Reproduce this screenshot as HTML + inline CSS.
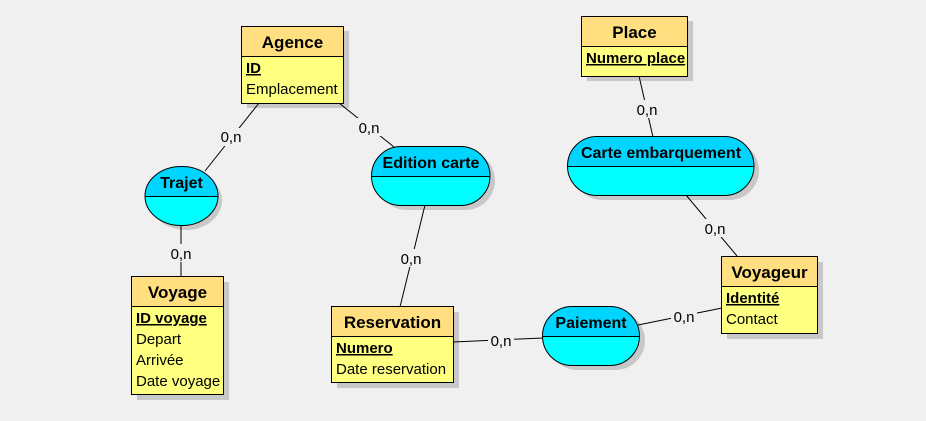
<!DOCTYPE html>
<html><head><meta charset="utf-8"><style>
html,body{margin:0;padding:0;background:#f0f0f0;}
svg{display:block;font-family:"Liberation Sans","DejaVu Sans",sans-serif;}
.t{font-weight:bold;font-size:17px;fill:#000;}
.a{font-size:15px;fill:#000;}
.k{font-size:15px;font-weight:bold;fill:#000;text-decoration:underline;}
.r{font-weight:bold;font-size:16px;fill:#000;}
.c{font-size:15px;fill:#000;}
</style></head><body>
<svg width="926" height="421" viewBox="0 0 926 421" xmlns="http://www.w3.org/2000/svg">
<rect width="926" height="421" fill="#f0f0f0"/>
<g fill="#c8c8c8">
<rect x="247" y="31" width="102" height="77"/>
<rect x="137" y="282" width="92" height="118"/>
<rect x="337" y="312" width="122" height="76"/>
<rect x="587" y="21" width="106" height="60"/>
<rect x="727" y="262" width="96" height="77"/>
<rect x="150" y="171" width="72" height="59" rx="36"/>
<rect x="377" y="151" width="118" height="59" rx="29.5"/>
<rect x="573" y="141" width="186" height="59" rx="29.5"/>
<rect x="548" y="311" width="97" height="59" rx="29.5"/>
</g>
<g stroke="#000" stroke-width="1">
<line x1="259" y1="103" x2="205" y2="171"/>
<line x1="339" y1="103" x2="394" y2="147"/>
<line x1="181" y1="225" x2="181" y2="277"/>
<line x1="425" y1="205" x2="400" y2="307"/>
<line x1="453" y1="342" x2="543" y2="338"/>
<line x1="638" y1="325" x2="722" y2="308"/>
<line x1="639" y1="76" x2="653" y2="137"/>
<line x1="686" y1="195" x2="737" y2="256"/>
</g>
<g fill="#f0f0f0">
<rect x="218" y="128" width="26" height="18"/>
<rect x="356" y="118" width="26" height="18"/>
<rect x="168" y="244" width="26" height="18"/>
<rect x="398" y="249" width="26" height="18"/>
<rect x="488" y="331" width="26" height="18"/>
<rect x="671" y="307" width="26" height="18"/>
<rect x="634" y="100" width="26" height="18"/>
<rect x="702" y="219" width="26" height="18"/>
</g>
<g class="c" text-anchor="middle">
<text x="231" y="142" class="c">0,n</text>
<text x="369" y="133" class="c">0,n</text>
<text x="181" y="259" class="c">0,n</text>
<text x="411" y="264" class="c">0,n</text>
<text x="501" y="346" class="c">0,n</text>
<text x="684" y="322" class="c">0,n</text>
<text x="647" y="115" class="c">0,n</text>
<text x="715" y="234" class="c">0,n</text>
</g>
<g stroke="#000" stroke-width="1">
<rect x="241.5" y="26.5" width="102" height="30" fill="#ffdf80"/>
<rect x="241.5" y="56.5" width="102" height="47" fill="#ffff80"/>
<rect x="131.5" y="276.5" width="92" height="30" fill="#ffdf80"/>
<rect x="131.5" y="306.5" width="92" height="88" fill="#ffff80"/>
<rect x="331.5" y="306.5" width="122" height="30" fill="#ffdf80"/>
<rect x="331.5" y="336.5" width="122" height="46" fill="#ffff80"/>
<rect x="581.5" y="16.5" width="106" height="30" fill="#ffdf80"/>
<rect x="581.5" y="46.5" width="106" height="30" fill="#ffff80"/>
<rect x="721.5" y="256.5" width="96" height="30" fill="#ffdf80"/>
<rect x="721.5" y="286.5" width="96" height="47" fill="#ffff80"/>
</g>
<g text-anchor="middle">
<text class="t" x="292.5" y="48">Agence</text>
<text class="t" x="177.5" y="298">Voyage</text>
<text class="t" x="392.5" y="328">Reservation</text>
<text class="t" x="634.5" y="38">Place</text>
<text class="t" x="769.5" y="278">Voyageur</text>
</g>
<text class="k" x="246" y="73">ID</text>
<text class="a" x="246" y="94">Emplacement</text>
<text class="k" x="136" y="323">ID voyage</text>
<text class="a" x="136" y="344">Depart</text>
<text class="a" x="136" y="365">Arrivée</text>
<text class="a" x="136" y="386">Date voyage</text>
<text class="k" x="336" y="353">Numero</text>
<text class="a" x="336" y="374">Date reservation</text>
<text class="k" x="586" y="63">Numero place</text>
<text class="k" x="726" y="303">Identité</text>
<text class="a" x="726" y="324">Contact</text>
<defs>
<clipPath id="c1"><rect x="145" y="166.5" width="73" height="59" rx="36"/></clipPath>
<clipPath id="c2"><rect x="371.5" y="146.5" width="118.5" height="59" rx="29.5"/></clipPath>
<clipPath id="c3"><rect x="567.5" y="136.5" width="186.5" height="59" rx="29.5"/></clipPath>
<clipPath id="c4"><rect x="542.5" y="306.5" width="97" height="59" rx="29.5"/></clipPath>
</defs>
<g clip-path="url(#c1)"><rect x="140" y="160" width="85" height="36" fill="#00d5ff"/><rect x="140" y="196" width="85" height="35" fill="#00ffff"/></g>
<rect x="145" y="166.5" width="73" height="59" rx="36" fill="none" stroke="#000"/>
<line x1="145" y1="196.5" x2="218" y2="196.5" stroke="#000"/>
<g clip-path="url(#c2)"><rect x="365" y="140" width="130" height="36" fill="#00d5ff"/><rect x="365" y="176" width="130" height="35" fill="#00ffff"/></g>
<rect x="371.5" y="146.5" width="118.5" height="59" rx="29.5" fill="none" stroke="#000"/>
<line x1="371.5" y1="176.5" x2="490" y2="176.5" stroke="#000"/>
<g clip-path="url(#c3)"><rect x="560" y="130" width="200" height="36" fill="#00d5ff"/><rect x="560" y="166" width="200" height="35" fill="#00ffff"/></g>
<rect x="567.5" y="136.5" width="186.5" height="59" rx="29.5" fill="none" stroke="#000"/>
<line x1="567.5" y1="166.5" x2="754" y2="166.5" stroke="#000"/>
<g clip-path="url(#c4)"><rect x="535" y="300" width="110" height="37" fill="#00d5ff"/><rect x="535" y="337" width="110" height="35" fill="#00ffff"/></g>
<rect x="542.5" y="306.5" width="97" height="59" rx="29.5" fill="none" stroke="#000"/>
<line x1="542.5" y1="336.5" x2="639.5" y2="336.5" stroke="#000"/>
<g text-anchor="middle">
<text class="r" x="181.5" y="188">Trajet</text>
<text class="r" x="431" y="168">Edition carte</text>
<text class="r" x="661" y="158">Carte embarquement</text>
<text class="r" x="591" y="328">Paiement</text>
</g>
</svg>
</body></html>
